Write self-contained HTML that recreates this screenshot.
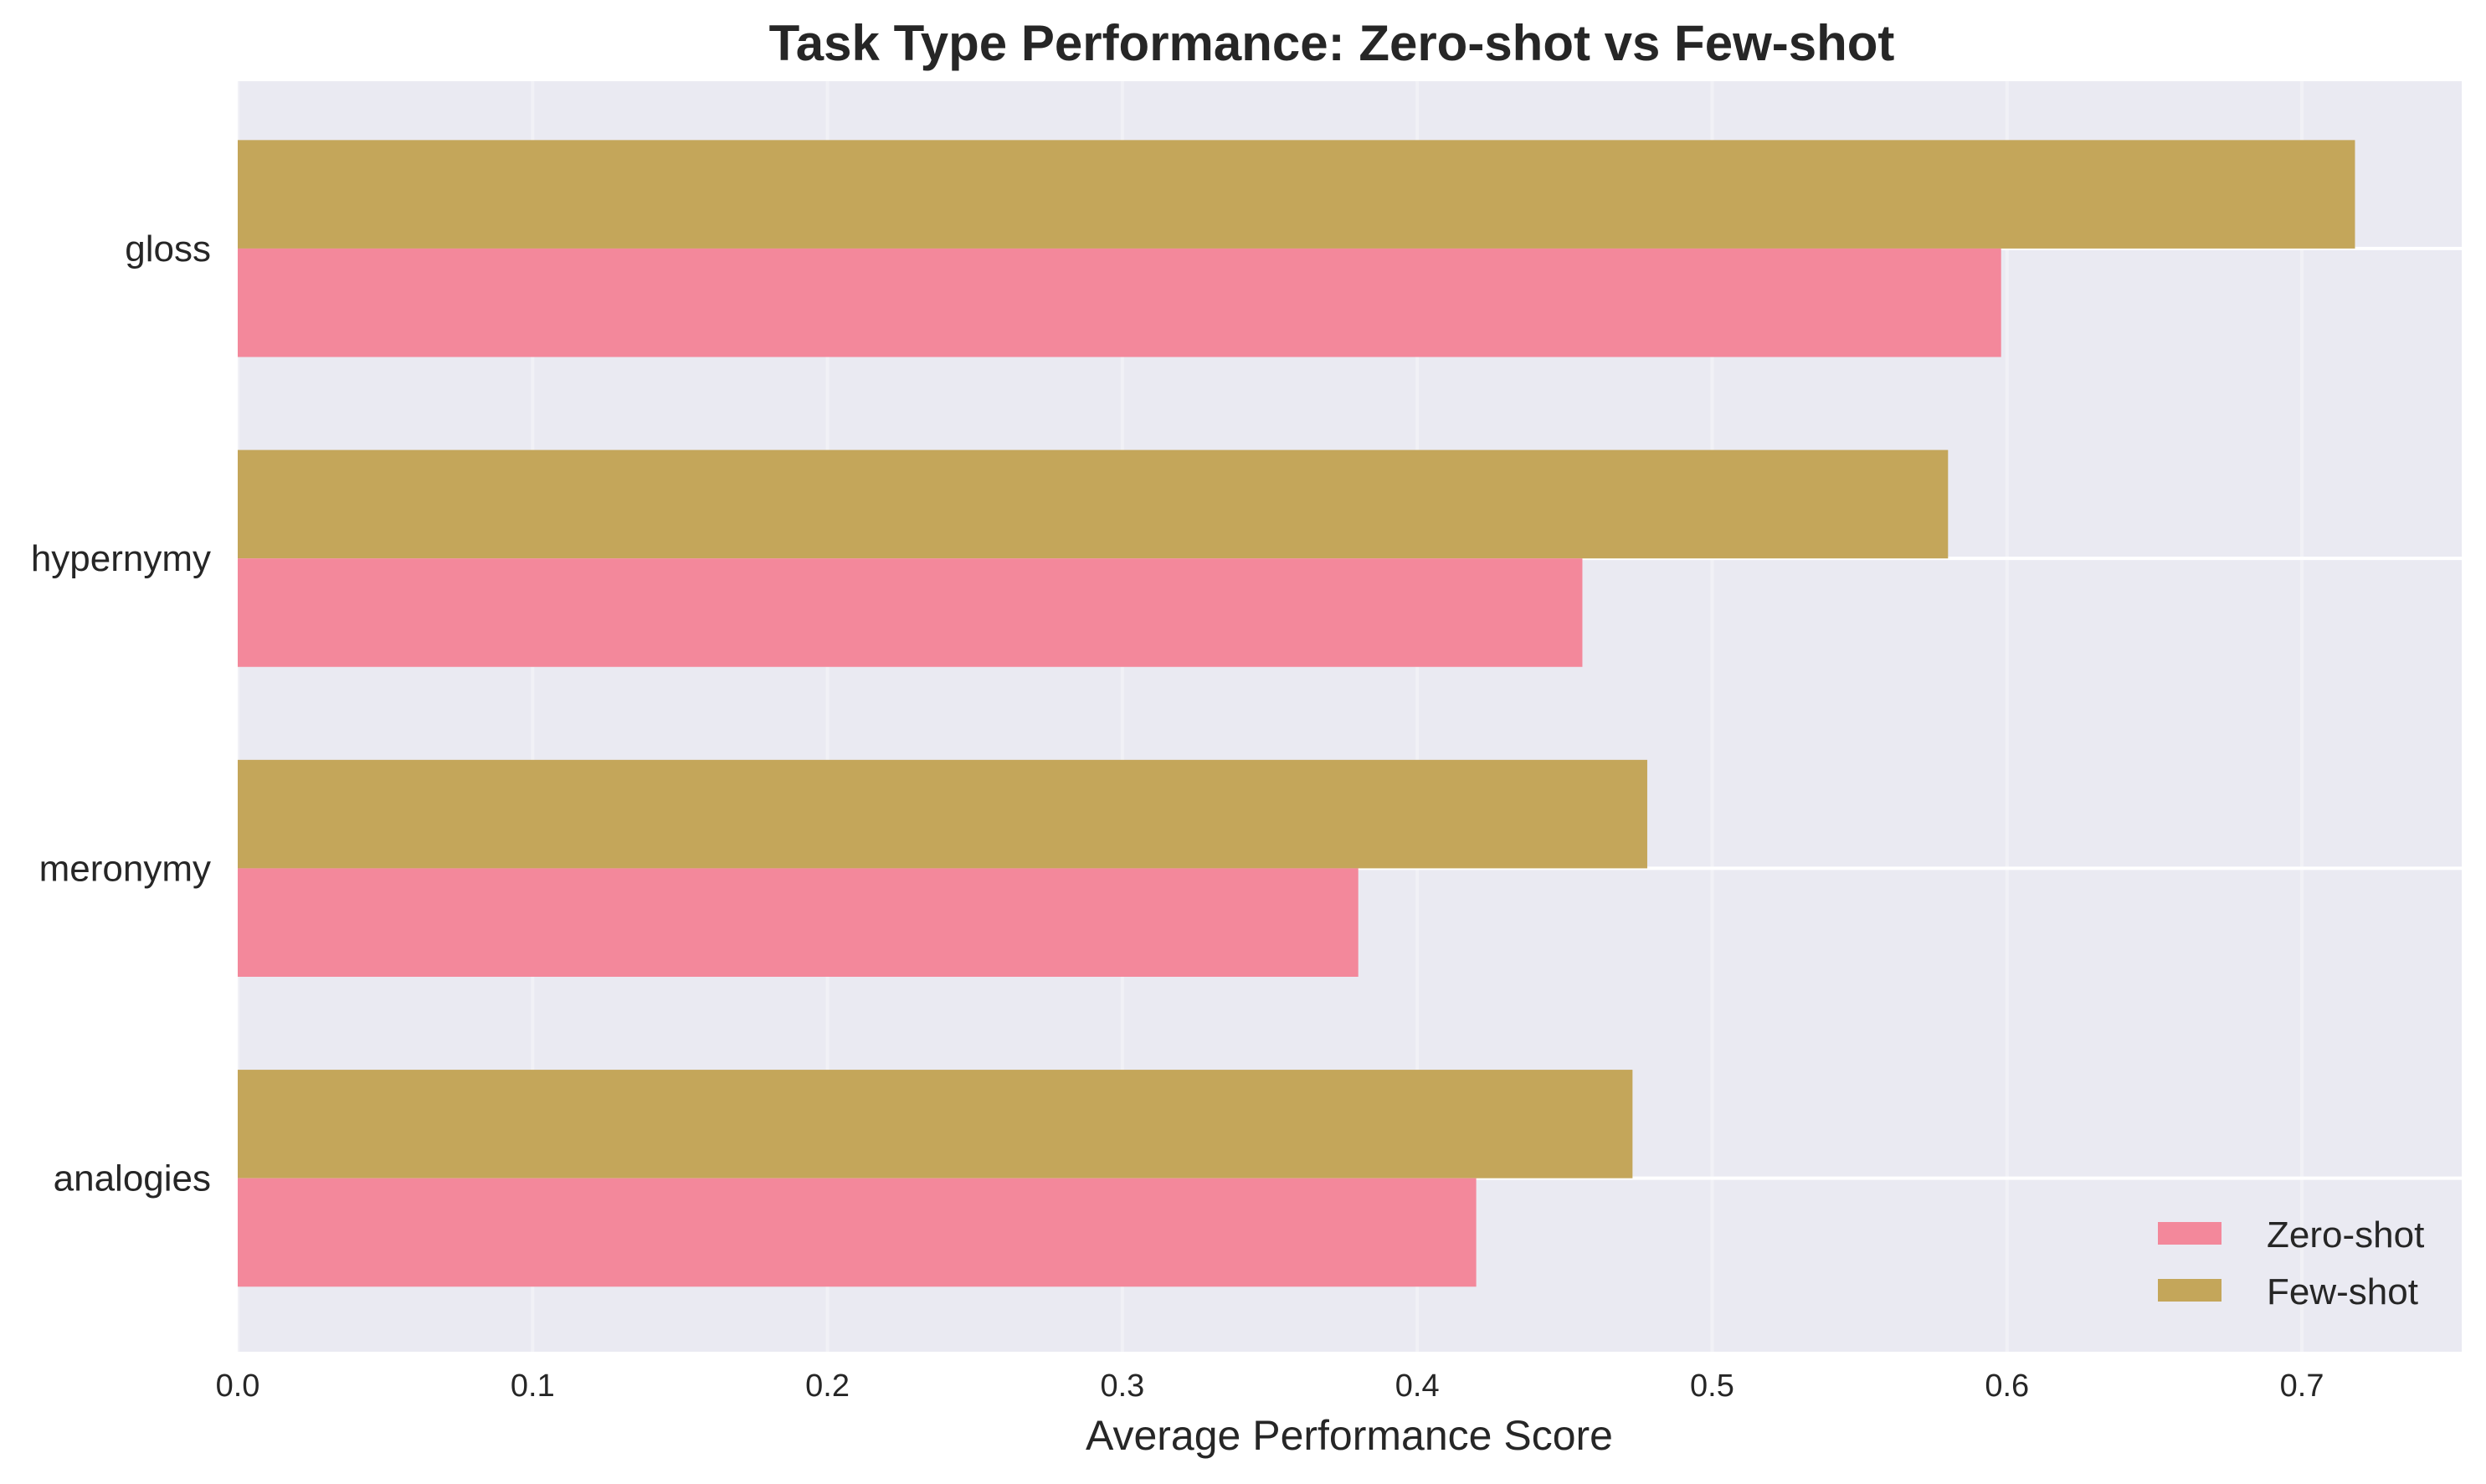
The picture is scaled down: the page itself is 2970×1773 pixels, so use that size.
<!DOCTYPE html>
<html><head><meta charset="utf-8"><style>
body{margin:0;background:#fff}
text{font-family:"Liberation Sans",Arial,sans-serif;fill:#262626}
</style></head><body>
<svg id="chart" width="2970" height="1768" viewBox="0 0 2970 1768" xmlns="http://www.w3.org/2000/svg">
<rect x="0" y="0" width="2970" height="1768" fill="#fff"/>
<rect x="284" y="97" width="2657" height="1518" fill="#EAEAF2"/>
<g id="grid"></g>
<g id="bars"></g>
<g id="xticks"></g>
<g id="yticks"></g>
<text x="1591" y="72" text-anchor="middle" font-size="60" font-weight="bold">Task Type Performance: Zero-shot vs Few-shot</text>
<text x="1612" y="1732" text-anchor="middle" font-size="50">Average Performance Score</text>
<g>
<rect x="2578" y="1460" width="76" height="27" fill="#F3889B"/>
<text x="2708" y="1490" font-size="44">Zero-shot</text>
<rect x="2578" y="1528" width="76" height="27" fill="#C4A65A"/>
<text x="2708" y="1558" font-size="44">Few-shot</text>
</g>
</svg>
<script>
const categories = ["gloss", "hypernymy", "meronymy", "analogies"];
const zeroShot = [0.598, 0.456, 0.380, 0.420];
const fewShot = [0.718, 0.580, 0.478, 0.473];
const xTicks = [0.0, 0.1, 0.2, 0.3, 0.4, 0.5, 0.6, 0.7];
const xTickLabels = ["0.0","0.1","0.2","0.3","0.4","0.5","0.6","0.7"];

const NS = "http://www.w3.org/2000/svg";
const pLeft = 284, pRight = 2941, pTop = 97, pBottom = 1615;
const xMin = 0, xMax = 0.7542;
function xScale(v){ return pLeft + (v - xMin) / (xMax - xMin) * (pRight - pLeft); }
const yMin = -0.54, yMax = 3.56;
function yScale(i){ return pTop + (i - yMin) / (yMax - yMin) * (pBottom - pTop); }
const barH = 0.35;
function mk(tag, attrs, parent){ const e = document.createElementNS(NS, tag); for (const k in attrs) e.setAttribute(k, attrs[k]); parent.appendChild(e); return e; }

const grid = document.getElementById('grid');
xTicks.forEach((t, i) => {
  const l = mk('line', {x1: xScale(t), x2: xScale(t), y1: pTop, y2: pBottom, stroke: '#fff', 'stroke-width': 4, opacity: 0.35}, grid);
  
  
  const tx = mk('text', {x: xScale(t), y: 1668, 'text-anchor': 'middle', 'font-size': 38}, document.getElementById('xticks'));
  tx.textContent = xTickLabels[i];
  
  
});
categories.forEach((c, i) => {
  const l = mk('line', {x1: pLeft, x2: pRight, y1: yScale(i), y2: yScale(i), stroke: '#fff', 'stroke-width': 4}, grid);
  
  
});
const bars = document.getElementById('bars');
categories.forEach((c, i) => {
  const yc = yScale(i);
  const fb = mk('rect', {x: pLeft, y: yScale(i - barH), width: xScale(fewShot[i]) - pLeft, height: yc - yScale(i - barH), fill: '#C4A65A'}, bars);
  
  
  const zb = mk('rect', {x: pLeft, y: yc, width: xScale(zeroShot[i]) - pLeft, height: yScale(i + barH) - yc, fill: '#F3889B'}, bars);
  
  
  const t = mk('text', {x: 252, y: yc + 15, 'text-anchor': 'end', 'font-size': 44}, document.getElementById('yticks'));
  t.textContent = c;
  
  
});
</script>
</body></html>
